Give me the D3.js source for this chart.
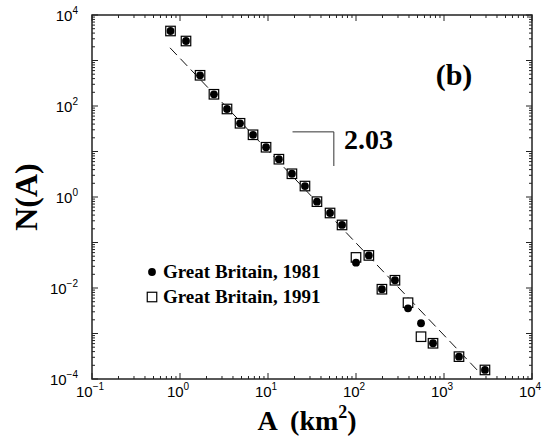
<!DOCTYPE html>
<html>
<head>
<meta charset="utf-8">
<script src="https://cdn.jsdelivr.net/npm/d3@7"></script>
<style>
	body { margin: 0; background: #fff; }
	.serif { font-family: "Liberation Serif", "Times New Roman", serif; font-weight: bold; white-space: pre; }
	.tick-label { font-family: "Liberation Sans", Arial, sans-serif; font-size: 15px; }
</style>
</head>
<body>
<svg id="chart" width="548" height="436"></svg>
<script>
// values (area in km^2, frequency N(A))
var areas = [0.78, 1.17, 1.69, 2.43, 3.42, 4.81, 6.76, 9.5, 13.3, 18.7, 26.3, 36, 50.7, 69.4,
	100, 140, 197, 277, 390, 548, 750, 1480, 2920];
var n1981 = [4450, 2680, 473, 181, 86, 41.7, 23.3, 12.4, 6.77, 3.24, 1.74, 0.79, 0.445, 0.243,
	0.036, 0.052, 0.0094, 0.0148, 0.00358, 0.00168, 0.00061, 0.00031, 0.000158];
var n1991 = [4450, 2680, 473, 181, 86, 41.7, 23.3, 12.4, 6.77, 3.24, 1.74, 0.79, 0.445, 0.243,
	0.047, 0.052, 0.0094, 0.0148, 0.00475, 0.00085, 0.00061, 0.00031, 0.000158];

// dashed fit, slope 2.03
var fitA = [0.77, 2570];
var fitN = [1900, 0.000135];
// slope marker
var slopeA = [19, 56, 56];
var slopeN = [27, 27, 4.8];

var xExponents = [-1, 0, 1, 2, 3, 4];
var yExponents = [-4, -2, 0, 2, 4];
var legendLabels = ["Great Britain, 1981", "Great Britain, 1991"];

(function(){
	var svg = d3.select("#chart");
	var pLeft = 92, pRight = 532, pTop = 15, pBottom = 379;

	var x = d3.scaleLog().domain([0.1, 1e4]).range([pLeft, pRight]);
	var y = d3.scaleLog().domain([1e-4, 1e4]).range([pBottom, pTop]);

	// log ticks, all pointing inwards, on every side
	function logTicks(lo, hi) {
		var t = [];
		for (var e = lo; e < hi; e++) {
			for (var m = 1; m < 10; m++) t.push({v: m * Math.pow(10, e), major: m === 1});
		}
		t.push({v: Math.pow(10, hi), major: true});
		return t;
	}
	var xt = logTicks(-1, 4), yt = logTicks(-4, 4);
	var tickG = svg.append("g").attr("stroke", "#222").attr("stroke-width", 1);

	tickG.selectAll(".xb").data(xt).enter().append("line")
		.attr("x1", function(d){ return x(d.v); }).attr("x2", function(d){ return x(d.v); })
		.attr("y1", pBottom).attr("y2", function(d){ return pBottom - (d.major ? 6 : 3); });
	tickG.selectAll(".xt").data(xt).enter().append("line")
		.attr("x1", function(d){ return x(d.v); }).attr("x2", function(d){ return x(d.v); })
		.attr("y1", pTop).attr("y2", function(d){ return pTop + (d.major ? 6 : 3); });
	tickG.selectAll(".yl").data(yt).enter().append("line")
		.attr("y1", function(d){ return y(d.v); }).attr("y2", function(d){ return y(d.v); })
		.attr("x1", pLeft).attr("x2", function(d){ return pLeft + (d.major ? 6 : 3); });
	tickG.selectAll(".yr").data(yt).enter().append("line")
		.attr("y1", function(d){ return y(d.v); }).attr("y2", function(d){ return y(d.v); })
		.attr("x1", pRight).attr("x2", function(d){ return pRight - (d.major ? 6 : 3); });

	svg.append("rect")
		.attr("x", pLeft).attr("y", pTop)
		.attr("width", pRight - pLeft).attr("height", pBottom - pTop)
		.attr("fill", "none").attr("stroke", "#222").attr("stroke-width", 1.5);

	// tick labels 10^n
	var xl = svg.selectAll(".xlab").data(xExponents).enter().append("text")
		.attr("class", "tick-label")
		.attr("x", function(d){ return x(Math.pow(10, d)) - 2; })
		.attr("y", 397)
		.attr("text-anchor", "middle");
	xl.append("tspan").text("10");
	xl.append("tspan").attr("dy", -7).attr("font-size", "10px").text(function(d){ return d < 0 ? "\u2212" + (-d) : d; });

	var yl = svg.selectAll(".ylab").data(yExponents).enter().append("text")
		.attr("class", "tick-label")
		.attr("x", 78)
		.attr("y", function(d){ return y(Math.pow(10, d)) + 6; })
		.attr("text-anchor", "end");
	yl.append("tspan").text("10");
	yl.append("tspan").attr("dy", -7).attr("font-size", "10px").text(function(d){ return d < 0 ? "\u2212" + (-d) : d; });

	// axis titles
	var xTitle = svg.append("text").attr("class", "serif")
		.attr("x", 307).attr("y", 430).attr("text-anchor", "middle").attr("font-size", "28px");
	xTitle.append("tspan").text("A  (km");
	xTitle.append("tspan").attr("dy", -12).attr("font-size", "18px").text("2");
	xTitle.append("tspan").attr("dy", 12).text(")");

	svg.append("text").attr("class", "serif")
		.attr("transform", "translate(37,197) rotate(-90)")
		.attr("text-anchor", "middle").attr("font-size", "32px")
		.text("N(A)");

	// fit line
	var line = d3.line()
		.x(function(d){ return x(d[0]); })
		.y(function(d){ return y(d[1]); });

	svg.append("path")
		.datum(d3.zip(fitA, fitN))
		.attr("d", line)
		.attr("fill", "none").attr("stroke", "#111").attr("stroke-width", 1)
		.attr("stroke-dasharray", "10,5");

	svg.append("path")
		.datum(d3.zip(slopeA, slopeN))
		.attr("d", line)
		.attr("fill", "none").attr("stroke", "#333").attr("stroke-width", 1);

	svg.append("text").attr("class", "serif")
		.attr("x", 344).attr("y", 149).attr("font-size", "28px")
		.text("2.03");

	svg.append("text").attr("class", "serif")
		.attr("x", 454).attr("y", 85).attr("text-anchor", "middle").attr("font-size", "30px")
		.text("(b)");

	// markers
	var sq = 9.5;
	svg.append("g").selectAll("rect").data(d3.zip(areas, n1991)).enter().append("rect")
		.attr("x", function(d){ return x(d[0]) - sq / 2; })
		.attr("y", function(d){ return y(d[1]) - sq / 2; })
		.attr("width", sq).attr("height", sq)
		.attr("fill", "#fff").attr("stroke", "#000").attr("stroke-width", 1.2);

	svg.append("g").selectAll("circle").data(d3.zip(areas, n1981)).enter().append("circle")
		.attr("cx", function(d){ return x(d[0]); })
		.attr("cy", function(d){ return y(d[1]); })
		.attr("r", 3.9)
		.attr("fill", "#000");

	// legend
	var leg = svg.append("g");
	leg.append("circle").attr("cx", 152).attr("cy", 272).attr("r", 3.9).attr("fill", "#000");
	leg.append("rect").attr("x", 152 - sq / 2).attr("y", 297 - sq / 2).attr("width", sq).attr("height", sq)
		.attr("fill", "#fff").attr("stroke", "#000").attr("stroke-width", 1.2);
	leg.selectAll("text").data(legendLabels).enter().append("text")
		.attr("class", "serif")
		.attr("x", 163)
		.attr("y", function(d, i){ return 278 + i * 25; })
		.attr("font-size", "19px")
		.text(function(d){ return d; });
})();
</script>
</body>
</html>
